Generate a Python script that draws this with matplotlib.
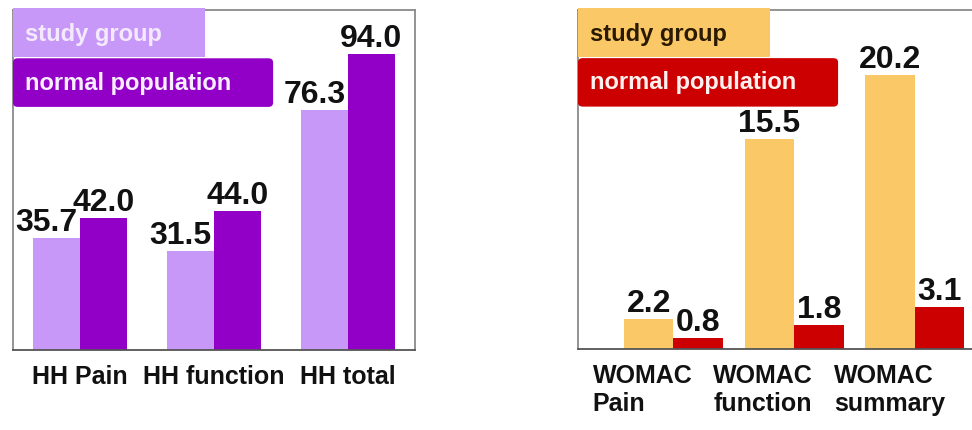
import matplotlib.pyplot as plt
from matplotlib.patches import Rectangle, FancyBboxPatch
from matplotlib.transforms import offset_copy, blended_transform_factory

plt.rcParams['font.family'] = ['Liberation Sans', 'DejaVu Sans']
plt.rcParams['font.weight'] = 'bold'

# data
hh_labels = ["HH Pain", "HH function", "HH total"]
hh_study = [35.7, 31.5, 76.3]
hh_normal = [42.0, 44.0, 94.0]

womac_labels = ["WOMAC\nPain", "WOMAC\nfunction", "WOMAC\nsummary"]
womac_study = [2.2, 15.5, 20.2]
womac_normal = [0.8, 1.8, 3.1]

legend_names = ["study group", "normal population"]

W, H = 972, 430
fig = plt.figure(figsize=(W / 100, H / 100), dpi=100)


def px_axes(x0, y0, x1, y1):
    # pixel box (top-left origin) -> figure fraction axes
    return fig.add_axes([x0 / W, 1 - y1 / H, (x1 - x0) / W, (y1 - y0) / H])


def panel(ax, study, normal, colors, legend_text_colors, width, xlim, ylim,
          study_dx, box_widths):
    x = range(len(study))
    b1 = ax.bar([i - width / 2 for i in x], study, width, color=colors[0], zorder=2)
    b2 = ax.bar([i + width / 2 for i in x], normal, width, color=colors[1], zorder=2)
    ax.set_xlim(*xlim)
    ax.set_ylim(*ylim)
    ax.set_xticks([])
    ax.set_yticks([])
    for s in ax.spines.values():
        s.set_color("#8a8a8a")
        s.set_linewidth(1.3)
    ax.spines["bottom"].set_color("#555555")

    # value labels
    t1 = offset_copy(ax.transData, fig=fig, x=study_dx, y=0, units="dots")
    t2 = offset_copy(ax.transData, fig=fig, x=0, y=0, units="dots")
    for r, v in zip(b1, study):
        ax.text(r.get_x() + r.get_width() / 2, v, f"{v:.1f}", transform=t1,
                ha="center", va="bottom", fontsize=23, fontweight="bold",
                color="#111111", zorder=4)
    for r, v in zip(b2, normal):
        ax.text(r.get_x() + r.get_width() / 2, v, f"{v:.1f}", transform=t2,
                ha="center", va="bottom", fontsize=23, fontweight="bold",
                color="#111111", zorder=4)

    # legend boxes
    ax.add_patch(Rectangle((0, 0.862), box_widths[0], 0.145, transform=ax.transAxes,
                           facecolor=colors[0], edgecolor="none", clip_on=False, zorder=5))
    ax.add_patch(FancyBboxPatch((0, 0.715), box_widths[1], 0.143, transform=ax.transAxes,
                                boxstyle="round,pad=0,rounding_size=0.012",
                                facecolor=colors[1], edgecolor="none", clip_on=False,
                                zorder=5, mutation_aspect=1))
    ax.text(0.03, 0.928, legend_names[0], transform=ax.transAxes, va="center",
            ha="left", fontsize=17, fontweight="bold", color=legend_text_colors[0], zorder=6)
    ax.text(0.03, 0.785, legend_names[1], transform=ax.transAxes, va="center",
            ha="left", fontsize=17, fontweight="bold", color=legend_text_colors[1], zorder=6)


# left panel
ax1 = px_axes(13, 10, 415, 350)
panel(ax1, hh_study, hh_normal, ["#C898F8", "#9200C8"], ["#F4EAFF", "#F8EEFF"],
      0.35, (-0.5, 2.5), (0, 108), -10, (0.478, 0.647))
for i, lab in enumerate(hh_labels):
    ax1.text(i, -0.045, lab, transform=blended_transform_factory(ax1.transData, ax1.transAxes),
             ha="center", va="top", fontsize=18, fontweight="bold", color="#111111")

# right panel
ax2 = px_axes(578, 10, 980, 349)
panel(ax2, womac_study, womac_normal, ["#FAC866", "#CC0000"], ["#2a1a00", "#FFF0F0"],
      0.41, (-0.79, 2.54), (0, 25), 0, (0.478, 0.647))
ax2.spines["right"].set_visible(False)
for i, lab in enumerate(womac_labels):
    ax2.text(i - 0.67, -0.045, lab, transform=blended_transform_factory(ax2.transData, ax2.transAxes),
             ha="left", va="top", fontsize=18, fontweight="bold", color="#111111",
             linespacing=1.2)

fig.savefig("out.png", dpi=100)
